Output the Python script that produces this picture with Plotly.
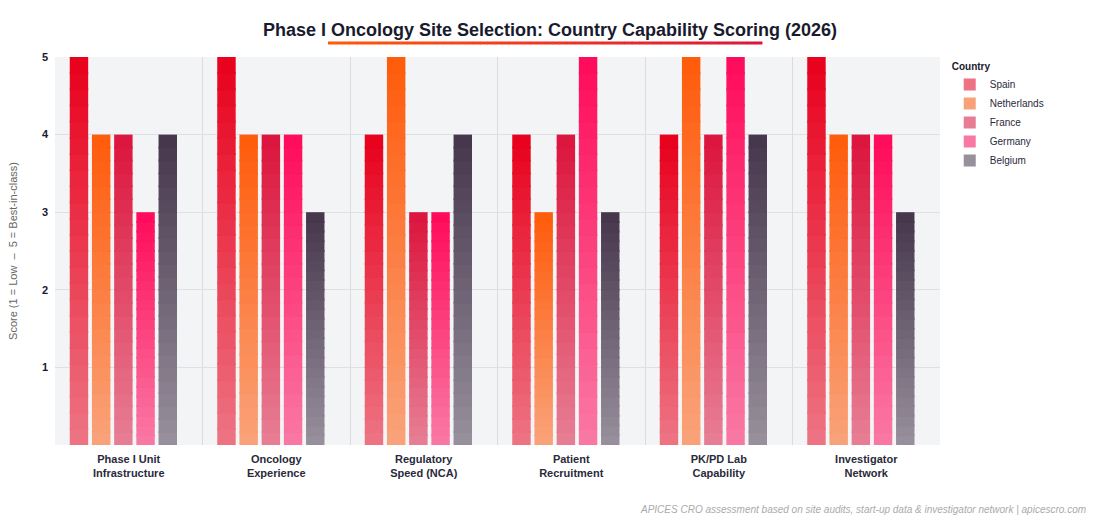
import plotly.graph_objects as go

categories = [
    "Phase I Unit<br>Infrastructure",
    "Oncology<br>Experience",
    "Regulatory<br>Speed (NCA)",
    "Patient<br>Recruitment",
    "PK/PD Lab<br>Capability",
    "Investigator<br>Network",
]
countries = ["Spain", "Netherlands", "France", "Germany", "Belgium"]
spain = [5, 5, 4, 4, 4, 5]
netherlands = [4, 4, 5, 3, 5, 4]
france = [4, 4, 3, 4, 4, 4]
germany = [3, 4, 3, 5, 5, 4]
belgium = [4, 3, 4, 3, 4, 3]
series = [spain, netherlands, france, germany, belgium]
top_colors = ["#E8001C", "#FF5A0A", "#DC143C", "#FF0A5A", "#45354B"]
y_ticks = [1, 2, 3, 4, 5]

BG = (243, 244, 246)
N = 24
OV = 0.012
BAR_W = 0.125
PITCH = 0.1505
START = -0.40
FONT = "Helvetica Neue, Helvetica, Arial, sans-serif"


def hex2rgb(h):
    h = h.lstrip("#")
    return tuple(int(h[i:i + 2], 16) for i in (0, 2, 4))


def blend(c, a):
    r = tuple(round(a * c[i] + (1 - a) * BG[i]) for i in range(3))
    return "rgb(%d,%d,%d)" % r


fig = go.Figure()

# each bar is drawn as a vertical stack of thin slices (gradient from top colour to a faded base)
for ci, (name, vals, col) in enumerate(zip(countries, series, top_colors)):
    rgb = hex2rgb(col)
    off = START + ci * PITCH
    for k in range(N):
        t = (k + 0.5) / N
        lo = [max(0.0, v * k / N - OV) for v in vals]
        hi = [v * (k + 1) / N + (OV if k < N - 1 else 0.0) for v in vals]
        fig.add_trace(go.Bar(
            x=categories, y=[h - l for h, l in zip(hi, lo)], base=lo,
            offset=off, width=BAR_W,
            marker=dict(color=blend(rgb, 0.52 + 0.48 * t), line=dict(width=0)),
            name=name, showlegend=(k == 0), legendrank=ci + 1, hoverinfo="skip",
        ))

# title underline gradient
x0p, x1p = (328 - 55) / 885, (762 - 55) / 885
yu = (445 - 43) / 388
c_a, c_b = hex2rgb("#FF5A0A"), hex2rgb("#DC143C")
NS = 60
shapes = []
for i in range(NS):
    t = (i + 0.5) / NS
    c = tuple(round(c_a[j] + (c_b[j] - c_a[j]) * t) for j in range(3))
    shapes.append(dict(
        type="line", xref="paper", yref="paper",
        x0=x0p + (x1p - x0p) * i / NS, x1=x0p + (x1p - x0p) * (i + 1) / NS + 0.0005,
        y0=yu, y1=yu, line=dict(color="rgb(%d,%d,%d)" % c, width=3),
    ))

fig.update_layout(
    width=1100, height=520,
    barmode="overlay",
    paper_bgcolor="white",
    plot_bgcolor="#F3F4F6",
    font=dict(family=FONT, size=11, color="#2a2a3a"),
    margin=dict(l=55, r=160, t=57, b=75),
    title=dict(
        text="<b>Phase I Oncology Site Selection: Country Capability Scoring (2026)</b>",
        x=0.5, xanchor="center", y=1 - 30 / 520, yanchor="middle",
        font=dict(family=FONT, size=18, color="#1a1a2e"),
    ),
    legend=dict(
        title=dict(text="<b>Country</b>", font=dict(size=10, color="#1a1a2e")),
        x=1.011, xanchor="left", y=1.0, yanchor="top",
        font=dict(size=10, color="#2a2a3a"),
        itemwidth=30, tracegroupgap=1,
        bgcolor="rgba(0,0,0,0)",
    ),
    shapes=shapes,
    annotations=[dict(
        text="<i>APICES CRO assessment based on site audits, start-up data &amp; investigator network | apicescro.com</i>",
        xref="paper", yref="paper",
        x=(1088 - 55) / 885, y=(445 - 509) / 388,
        xanchor="right", yanchor="middle", showarrow=False,
        font=dict(size=10, color="#aaaaaa"),
    )],
    xaxis=dict(
        type="category", categoryorder="array", categoryarray=categories,
        tickson="boundaries", showgrid=True, gridcolor="#DCDCE0", gridwidth=1,
        ticks="", showline=False, zeroline=False, ticklabelstandoff=6,
        tickfont=dict(family=FONT, size=11, color="#2a2a3a", weight="bold"),
    ),
    yaxis=dict(
        range=[0, 5], tickvals=y_ticks, ticktext=[str(v) for v in y_ticks],
        showgrid=True, gridcolor="#E0E0E4", gridwidth=1, zeroline=False,
        ticks="", ticklabelstandoff=6,
        tickfont=dict(family=FONT, size=11, color="#1a1a2e", weight="bold"),
        title=dict(text="Score (1 = Low  –  5 = Best-in-class)", standoff=22,
                   font=dict(family=FONT, size=11, color="#666666")),
    ),
)

fig.write_html("out.html")
